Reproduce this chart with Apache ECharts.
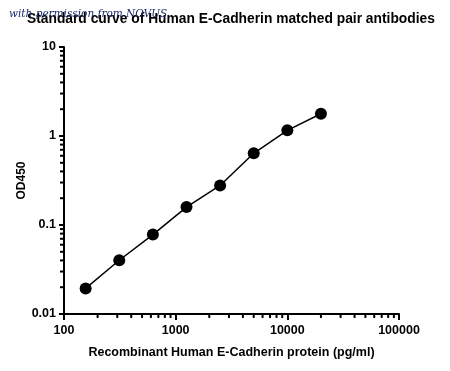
<!DOCTYPE html>
<html>
<head>
<meta charset="utf-8">
<script src="https://cdn.jsdelivr.net/npm/echarts@6/dist/echarts.min.js"></script>
<style>html,body{margin:0;padding:0;background:#fff}#c{width:450px;height:371px}</style>
</head>
<body>
<div id="c"></div>
<script>
var concentrations = [156.25, 312.5, 625, 1250, 2500, 5000, 10000, 20000];
var od450 = [0.0194, 0.0402, 0.078, 0.159, 0.278, 0.639, 1.157, 1.78];
var xMinorTicks = [200,300,400,500,600,700,800,900,2000,3000,4000,5000,6000,7000,8000,9000,20000,30000,40000,50000,60000,70000,80000,90000];
var yMinorTicks = [0.02,0.03,0.04,0.05,0.06,0.07,0.08,0.09,0.2,0.3,0.4,0.5,0.6,0.7,0.8,0.9,2,3,4,5,6,7,8,9];
var titleText = 'Standard curve of Human E-Cadherin matched pair antibodies';
var xName = 'Recombinant Human E-Cadherin protein (pg/ml)';
var yName = 'OD450';

var FONT = '"Liberation Sans", Arial, sans-serif';
var chart = echarts.init(document.getElementById('c'), null, {renderer: 'canvas'});
var pts = concentrations.map(function (c, i) { return [c, od450[i]]; });
var minorData = xMinorTicks.map(function (v) { return [v, 'x']; })
  .concat(yMinorTicks.map(function (v) { return [v, 'y']; }));

chart.setOption({
  animation: false,
  backgroundColor: '#fff',
  title: {
    text: titleText,
    left: 22, top: 7,
    textStyle: {fontFamily: FONT, fontWeight: 'bold', fontSize: 13.8, color: '#000'}
  },
  graphic: [{
    type: 'text', left: 9, top: 9, z: 10,
    style: {text: 'with permission from NOVUS', font: 'italic 10.5px "DejaVu Serif", serif', fill: '#1d2b6b'}
  }],
  grid: {left: 64, right: 51, top: 47, bottom: 57},
  xAxis: {
    type: 'log', logBase: 10, min: 100, max: 100000,
    name: xName, nameLocation: 'middle', nameGap: 32, nameMoveOverlap: false,
    nameTextStyle: {fontFamily: FONT, fontWeight: 'bold', fontSize: 12.5, color: '#000'},
    axisLine: {lineStyle: {color: '#000', width: 2}},
    axisTick: {length: 6, lineStyle: {color: '#000', width: 2}},
    axisLabel: {fontFamily: FONT, fontWeight: 'bold', fontSize: 12.5, color: '#000', margin: 10,
      formatter: function (v) { return String(Math.round(v)); }},
    splitLine: {show: false}
  },
  yAxis: {
    type: 'log', logBase: 10, min: 0.01, max: 10,
    name: yName, nameLocation: 'middle', nameGap: 36, nameRotate: 90, nameMoveOverlap: false,
    nameTextStyle: {fontFamily: FONT, fontWeight: 'bold', fontSize: 12, color: '#000'},
    axisLine: {show: true, lineStyle: {color: '#000', width: 2}},
    axisTick: {show: true, length: 5, lineStyle: {color: '#000', width: 2}},
    axisLabel: {fontFamily: FONT, fontWeight: 'bold', fontSize: 12.5, color: '#000', margin: 8,
      formatter: function (v) { return String(+v.toPrecision(3)); }},
    splitLine: {show: false}
  },
  series: [{
    type: 'line',
    data: pts,
    symbol: 'circle', symbolSize: 12,
    itemStyle: {color: '#000'},
    lineStyle: {color: '#000', width: 1.5}
  }, {
    type: 'custom',
    data: minorData,
    clip: false,
    silent: true,
    renderItem: function (params, api) {
      var v = api.value(0);
      var axis = minorData[params.dataIndex][1];
      var p;
      if (axis === 'x') {
        p = api.coord([v, 0.01]);
        return {type: 'line', shape: {x1: p[0], y1: p[1], x2: p[0], y2: p[1] + 4},
          style: {stroke: '#000', lineWidth: 2}};
      } else {
        p = api.coord([100, v]);
        return {type: 'line', shape: {x1: p[0] - 4, y1: p[1], x2: p[0], y2: p[1]},
          style: {stroke: '#000', lineWidth: 2}};
      }
    }
  }]
});
</script>
</body>
</html>
